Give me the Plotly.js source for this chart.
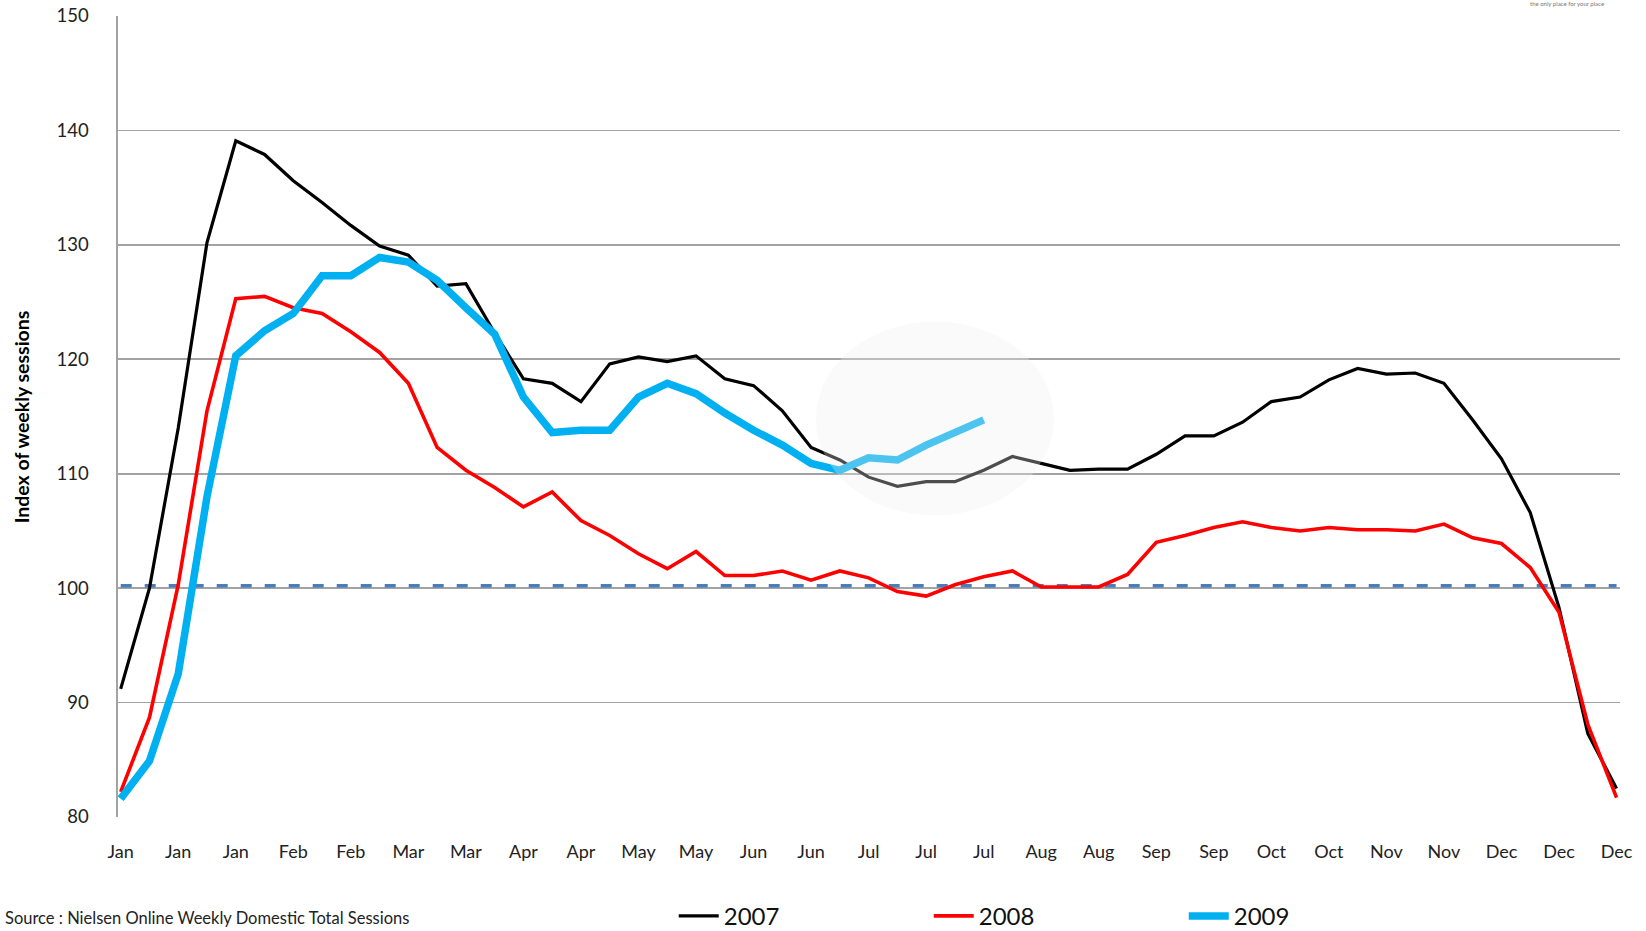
<!DOCTYPE html>
<html>
<head>
<meta charset="utf-8">
<script src="https://cdn.plot.ly/plotly-3.0.1.min.js"></script>
<style>
html,body{margin:0;padding:0;background:#ffffff;}
#chart{width:1646px;height:931px;}
</style>
</head>
<body>
<div id="chart"></div>
<script>
// Tick labels shown under every second weekly point
const monthLabels = ['Jan','Jan','Jan','Feb','Feb','Mar','Mar','Apr','Apr','May','May','Jun','Jun','Jul','Jul','Jul','Aug','Aug','Sep','Sep','Oct','Oct','Nov','Nov','Dec','Dec','Dec'];

// Weekly index of sessions
const sessions2007 = [91.2,100.0,114.0,130.2,139.1,137.9,135.6,133.7,131.7,129.9,129.1,126.4,126.6,122.3,118.3,117.9,116.3,119.6,120.2,119.8,120.3,118.3,117.7,115.5,112.3,111.2,109.7,108.9,109.3,109.3,110.3,111.5,110.9,110.3,110.4,110.4,111.7,113.3,113.3,114.5,116.3,116.7,118.2,119.2,118.7,118.8,117.9,114.7,111.3,106.6,98.3,87.3,82.5];
const sessions2008 = [82.2,88.7,100.3,115.5,125.3,125.5,124.5,124.0,122.4,120.6,117.9,112.3,110.3,108.8,107.1,108.4,105.9,104.6,103.0,101.7,103.2,101.1,101.1,101.5,100.7,101.5,100.9,99.7,99.3,100.3,101.0,101.5,100.1,100.1,100.1,101.2,104.0,104.6,105.3,105.8,105.3,105.0,105.3,105.1,105.1,105.0,105.6,104.4,103.9,101.8,97.9,88.1,81.7];
const sessions2009 = [81.6,84.9,92.5,108.0,120.3,122.5,124.0,127.3,127.3,128.9,128.5,126.9,124.5,122.2,116.7,113.6,113.8,113.8,116.7,117.9,117.0,115.3,113.8,112.5,110.9,110.3,111.4,111.2,112.5,113.6,114.7];

const baselineValue = 100.2;
const yTickValues = [80,90,100,110,120,130,140,150];

const weekIndex = arr => arr.map((_, i) => i);
const tickPositions = monthLabels.map((_, i) => i * 2);
const lastWeek = sessions2007.length - 1;

const traces = [
  {x: weekIndex(sessions2007), y: sessions2007, name: '2007', type: 'scatter', mode: 'lines',
   line: {color: '#000000', width: 3.2}},
  {x: weekIndex(sessions2008), y: sessions2008, name: '2008', type: 'scatter', mode: 'lines',
   line: {color: '#ff0000', width: 3.6}},
  {x: weekIndex(sessions2009), y: sessions2009, name: '2009', type: 'scatter', mode: 'lines',
   line: {color: '#00b0f0', width: 7.5}}
];

const fontFamily = 'Lato, "Open Sans", sans-serif';

const layout = {
  width: 1646, height: 931,
  paper_bgcolor: '#ffffff', plot_bgcolor: '#ffffff',
  margin: {l: 118, r: 26, t: 16, b: 114, autoexpand: false},
  font: {family: fontFamily, color: '#222222'},
  showlegend: true,
  legend: {
    orientation: 'h', x: 0.37, xanchor: 'left', y: -0.124, yanchor: 'middle',
    font: {size: 24, color: '#111111', family: fontFamily},
    entrywidth: 200, entrywidthmode: 'pixels',
    bgcolor: 'rgba(0,0,0,0)', borderwidth: 0, itemwidth: 40
  },
  xaxis: {
    range: [-0.094, lastWeek + 0.12],
    tickmode: 'array', tickvals: tickPositions, ticktext: monthLabels,
    showgrid: false, zeroline: false, showline: false, ticks: '',
    ticklabelstandoff: 22,
    tickfont: {size: 18, color: '#222222', family: fontFamily},
    fixedrange: true
  },
  yaxis: {
    range: [80, 150],
    tickmode: 'array', tickvals: yTickValues,
    showgrid: true, gridcolor: '#a3a3a3', gridwidth: 1.6,
    zeroline: false, showline: true, linecolor: '#a3a3a3', linewidth: 1.6,
    ticks: '', ticklabelstandoff: 24,
    tickfont: {size: 18.5, color: '#222222', family: fontFamily},
    fixedrange: true
  },
  shapes: [
    {type: 'line', xref: 'x', yref: 'y', x0: 0, x1: lastWeek, y0: baselineValue, y1: baselineValue,
     line: {color: '#4a7ebb', width: 3.5, dash: '11px,13px'}, layer: 'between'},
    {type: 'circle', xref: 'x', yref: 'y', x0: 24.17, x1: 32.44, y0: 106.35, y1: 123.3,
     fillcolor: 'rgba(240,240,240,0.32)', line: {width: 0}, layer: 'above'},
    {type: 'rect', xref: 'paper', yref: 'paper', x0: 0.864, x1: 1.02, y0: 0.99, y1: 1.01,
     fillcolor: '#ffffff', line: {width: 0}, layer: 'above'}
  ],
  annotations: [
    {text: '<b>Index of weekly sessions</b>', xref: 'paper', yref: 'paper',
     x: -0.064, y: 0.5, xanchor: 'center', yanchor: 'middle', textangle: -90, showarrow: false,
     font: {size: 19.5, color: '#000000', family: fontFamily}},
    {text: 'Source : Nielsen Online Weekly Domestic Total Sessions', xref: 'paper', yref: 'paper',
     x: -0.0765, y: -0.1265, xanchor: 'left', yanchor: 'middle', showarrow: false,
     font: {size: 16.5, color: '#222222', family: fontFamily}},
    {text: 'the only place for your place', xref: 'paper', yref: 'paper',
     x: 0.965, y: 1.015, xanchor: 'center', yanchor: 'middle', showarrow: false,
     font: {size: 6, color: '#777777', family: fontFamily}}
  ]
};

Plotly.newPlot('chart', traces, layout, {displayModeBar: false, staticPlot: true});
</script>
</body>
</html>
